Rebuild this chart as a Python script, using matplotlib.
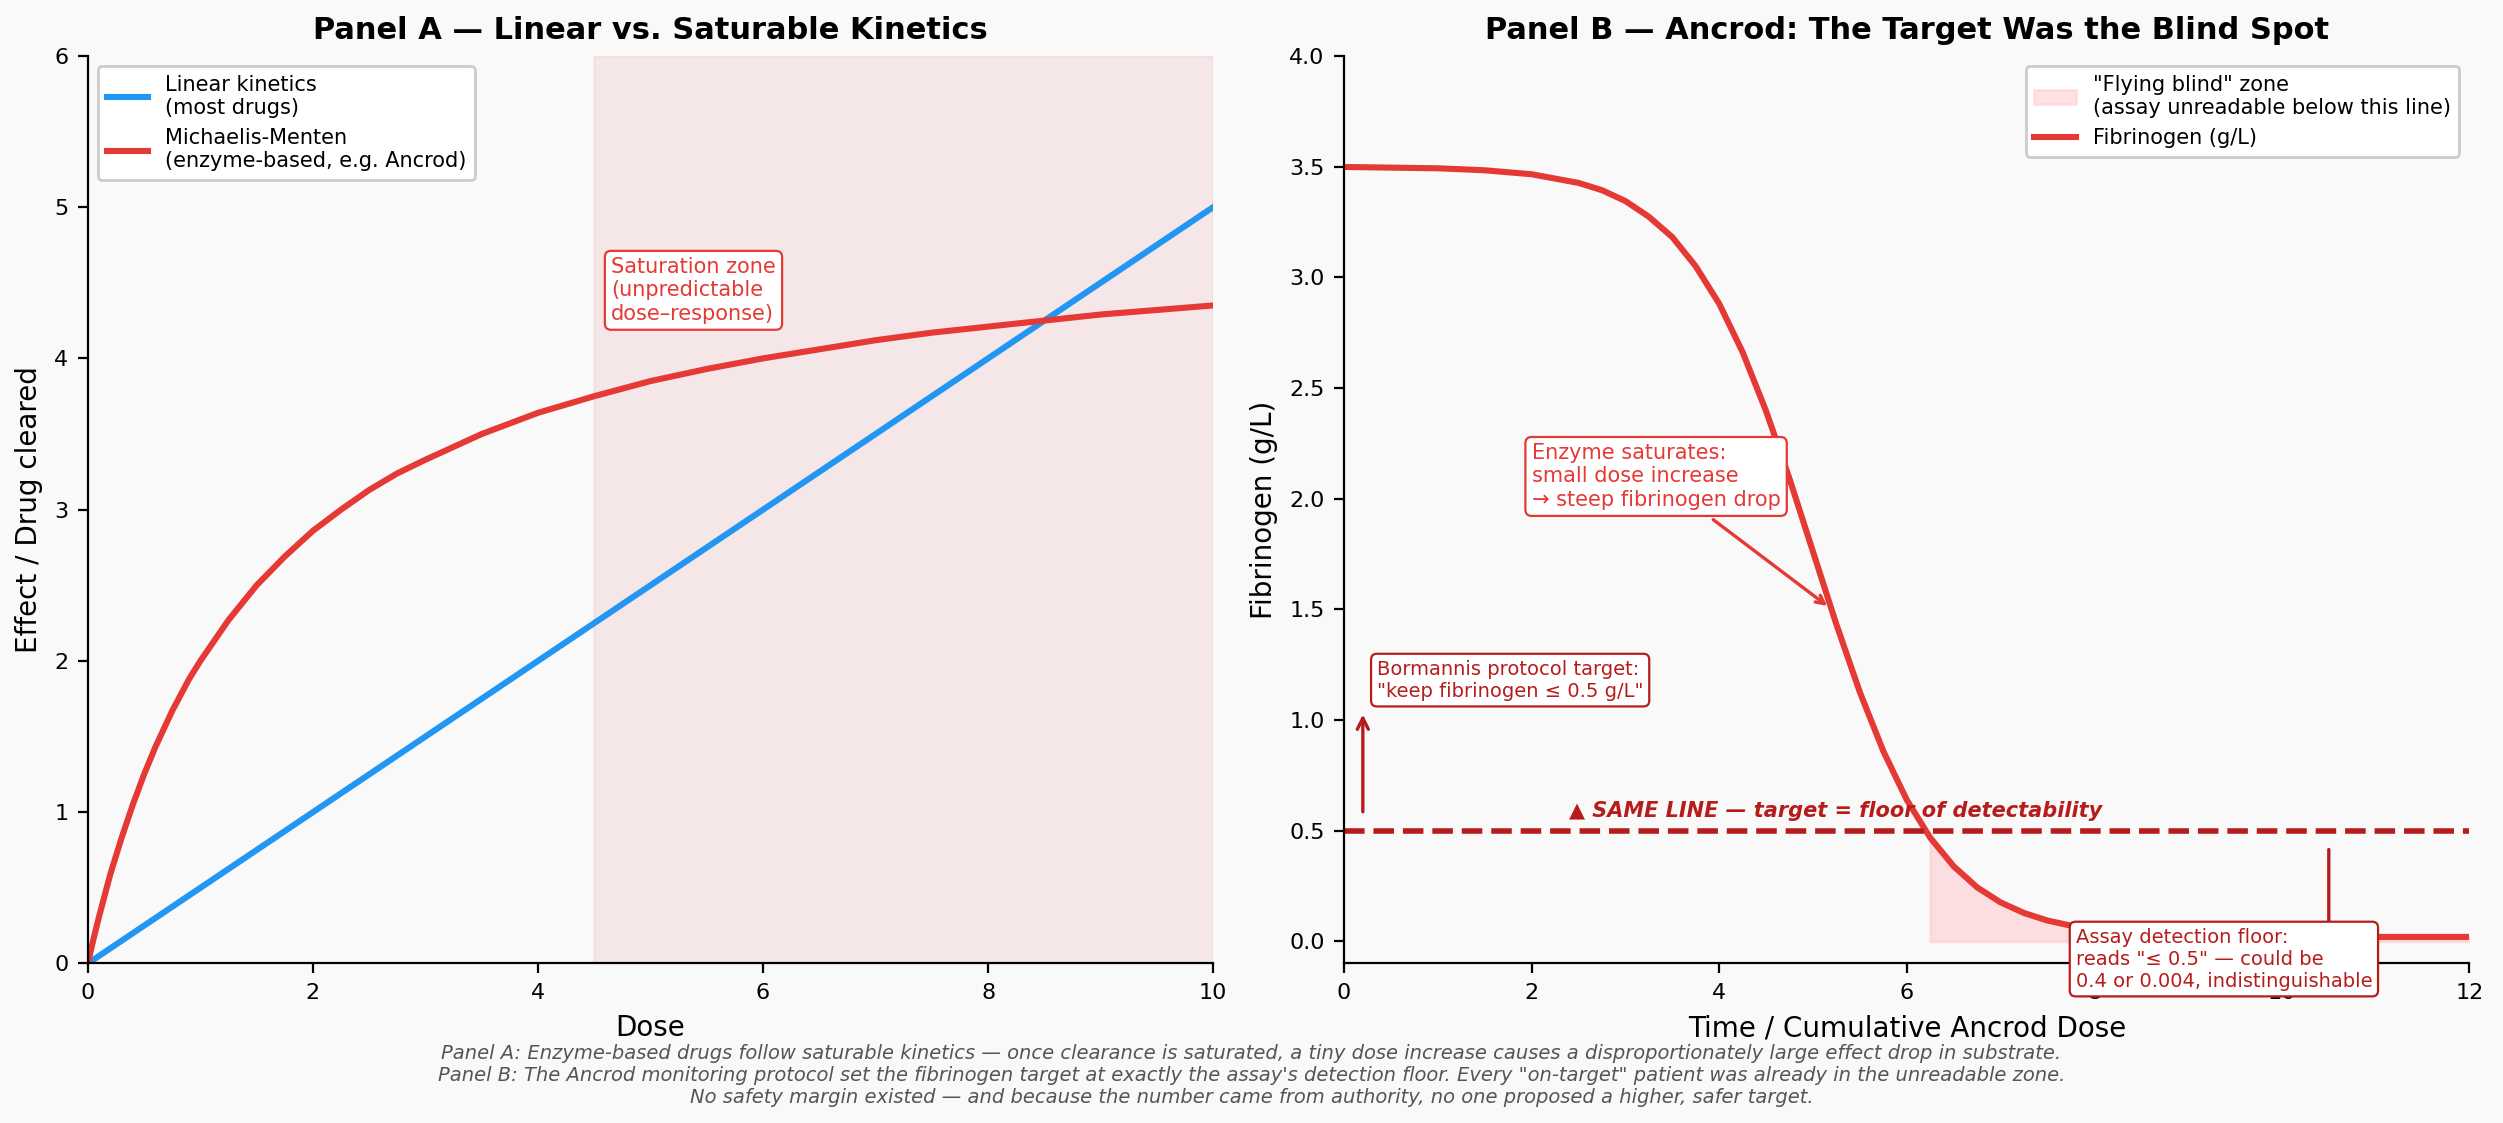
import matplotlib.pyplot as plt
import numpy as np

# Panel A values
dose_lin = [0, 10]
effect_lin = [0, 5]
dose_mm = [0, 0.05, 0.1, 0.2, 0.3, 0.4, 0.5, 0.6, 0.75, 0.9, 1, 1.25, 1.5, 1.75, 2, 2.25, 2.5, 2.75, 3, 3.5,
           4, 4.5, 5, 5.5, 6, 6.5, 7, 7.5, 8, 8.5, 9, 9.5, 10]
effect_mm = [0, 0.16, 0.31, 0.59, 0.83, 1.05, 1.25, 1.43, 1.67, 1.88, 2.0, 2.27, 2.5, 2.69, 2.86, 3.0, 3.13,
             3.24, 3.33, 3.5, 3.64, 3.75, 3.85, 3.93, 4.0, 4.06, 4.12, 4.17, 4.21, 4.25, 4.29, 4.32, 4.35]

# Panel B values
time_b = [0, 1, 1.5, 2, 2.5, 2.75, 3, 3.25, 3.5, 3.75, 4, 4.25, 4.5, 4.75, 5, 5.25, 5.5, 5.75, 6, 6.25,
          6.5, 6.75, 7, 7.25, 7.5, 7.75, 8, 8.5, 9, 10, 11, 12]
fib_b = [3.498, 3.492, 3.483, 3.465, 3.426, 3.393, 3.344, 3.273, 3.181, 3.049, 2.88, 2.661, 2.395, 2.089,
         1.76, 1.431, 1.125, 0.859, 0.639, 0.468, 0.339, 0.244, 0.176, 0.128, 0.094, 0.071, 0.055, 0.038,
         0.028, 0.022, 0.02, 0.02]
floor_level = 0.5

bg = '#f9f9f9'
blue = '#2196f3'
red = '#e53935'
dark = '#b71c1c'

W, H = 1568, 704
fig = plt.figure(figsize=(12.515, 5.615), dpi=200, facecolor=bg)
ax1 = fig.add_axes([55 / W, 1 - 604 / H, 705 / W, 569 / H])
ax2 = fig.add_axes([842 / W, 1 - 604 / H, 705 / W, 569 / H])

for ax in (ax1, ax2):
    ax.set_facecolor(bg)
    ax.spines['top'].set_visible(False)
    ax.spines['right'].set_visible(False)
    ax.tick_params(labelsize=8)

# Panel A
ax1.axvspan(4.5, 10, color='#f0c8c8', alpha=0.35)
ax1.plot(dose_lin, effect_lin, color=blue, lw=2.2, label='Linear kinetics\n(most drugs)')
ax1.plot(dose_mm, effect_mm, color=red, lw=2.2, label='Michaelis-Menten\n(enzyme-based, e.g. Ancrod)')
ax1.set_xlim(0, 10)
ax1.set_ylim(0, 6)
ax1.set_xlabel('Dose', fontsize=10)
ax1.set_ylabel('Effect / Drug cleared', fontsize=10)
ax1.set_title('Panel A — Linear vs. Saturable Kinetics', fontsize=11, fontweight='bold')
ax1.legend(loc='upper left', fontsize=7.5, framealpha=1)
ax1.text(4.65, 4.45, 'Saturation zone\n(unpredictable\ndose–response)', color=red, fontsize=7.5,
         va='center', bbox=dict(boxstyle='round,pad=0.3', fc='white', ec=red, lw=0.8))

# Panel B
t = np.array(time_b)
f = np.array(fib_b)
ax2.fill_between(t, 0, f, where=f <= floor_level + 0.03, color='#ffcdd2', alpha=0.6,
                 label='"Flying blind" zone\n(assay unreadable below this line)')
ax2.plot(t, f, color=red, lw=2.2, label='Fibrinogen (g/L)')
ax2.axhline(floor_level, color=dark, lw=2, ls='--')
ax2.set_xlim(0, 12)
ax2.set_ylim(-0.1, 4.0)
ax2.set_xlabel('Time / Cumulative Ancrod Dose', fontsize=10)
ax2.set_ylabel('Fibrinogen (g/L)', fontsize=10)
ax2.set_title('Panel B — Ancrod: The Target Was the Blind Spot', fontsize=11, fontweight='bold')
ax2.legend(loc='upper right', fontsize=7.5, framealpha=1)

ax2.annotate('Enzyme saturates:\nsmall dose increase\n→ steep fibrinogen drop', xy=(5.2, 1.5), xytext=(2.0, 2.1),
             color=red, fontsize=7.5, va='center',
             bbox=dict(boxstyle='round,pad=0.3', fc='white', ec=red, lw=0.8),
             arrowprops=dict(arrowstyle='->', color=red, lw=1.2))
ax2.annotate('', xy=(0.2, 1.05), xytext=(0.2, 0.56),
             arrowprops=dict(arrowstyle='->', color=dark, lw=1.2))
ax2.text(0.35, 1.18, 'Bormannis protocol target:\n"keep fibrinogen ≤ 0.5 g/L"', color=dark, fontsize=7,
         va='center', bbox=dict(boxstyle='round,pad=0.3', fc='white', ec=dark, lw=0.8))
ax2.text(2.4, 0.59, '▲ SAME LINE — target = floor of detectability', color=dark, fontsize=7.5,
         fontweight='bold', style='italic', va='center')
ax2.annotate('', xy=(10.5, -0.02), xytext=(10.5, 0.44),
             arrowprops=dict(arrowstyle='-', color=dark, lw=1.2))
ax2.text(7.8, -0.08, 'Assay detection floor:\nreads "≤ 0.5" — could be\n0.4 or 0.004, indistinguishable', color=dark,
         fontsize=7, va='center', bbox=dict(boxstyle='round,pad=0.3', fc='white', ec=dark, lw=0.8), zorder=5)

fig.text(0.5, 0.042,
         'Panel A: Enzyme-based drugs follow saturable kinetics — once clearance is saturated, a tiny dose increase causes a disproportionately large effect drop in substrate.\n'
         'Panel B: The Ancrod monitoring protocol set the fibrinogen target at exactly the assay\'s detection floor. Every "on-target" patient was already in the unreadable zone.\n'
         'No safety margin existed — and because the number came from authority, no one proposed a higher, safer target.',
         ha='center', va='center', fontsize=7, style='italic', color='#555555')

fig.savefig('out.png', dpi=200, facecolor=bg)
